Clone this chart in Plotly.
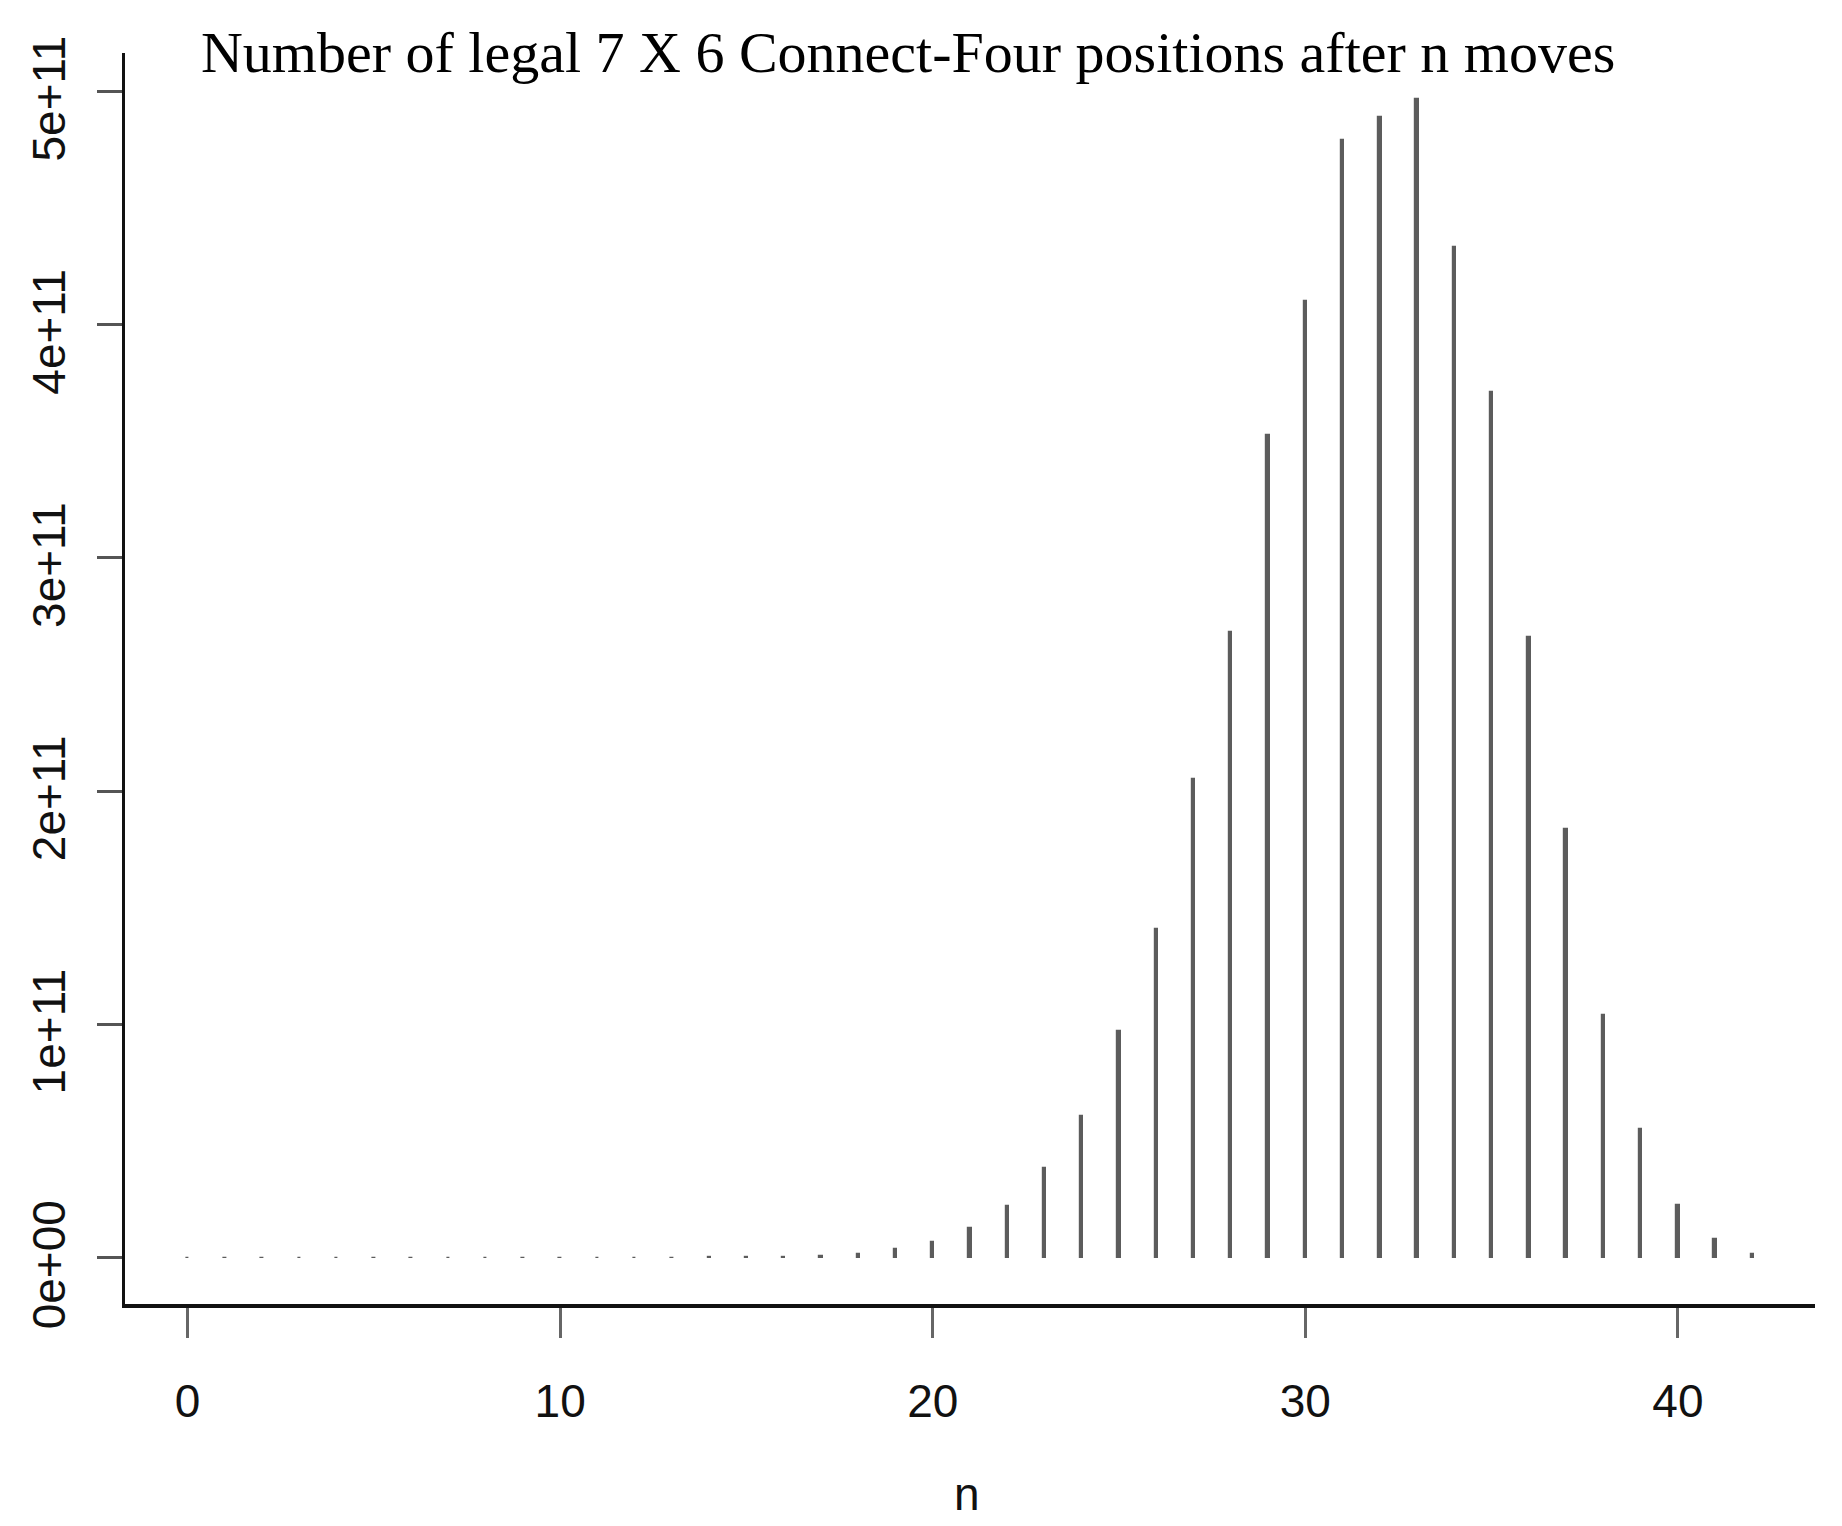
import plotly.graph_objects as go

moves = list(range(43))
positions = [
    1, 7, 49, 238, 1120, 4263, 16422, 54859, 184275, 558186,
    1662623, 4568683, 12236101, 30929111, 75437595, 176541259, 394591391,
    858218743, 1763883894, 3568259802, 6746155945, 12673345045, 22010823988,
    38263228189, 60830813459, 97266114959, 140728569039, 205289508055,
    268057611944, 352626845666, 410378505447, 479206477733, 488906447183,
    496636890702, 433471730336, 370947887723, 266313901222, 183615682381,
    104004465349, 55156010773, 22695896495, 7811825938, 1459332899,
]
x_ticks = [0, 10, 20, 30, 40]
y_ticks = [0, 1e11, 2e11, 3e11, 4e11, 5e11]
y_tick_labels = ["0e+00", "1e+11", "2e+11", "3e+11", "4e+11", "5e+11"]

title_text = "Number of legal 7 X 6 Connect-Four positions after n moves"
x_label = "n"

bar_color = "#5c5c5c"

fig = go.Figure()
fig.add_trace(go.Bar(
    x=moves, y=positions, width=0.09,
    marker=dict(color=bar_color, line=dict(color=bar_color, width=1.2)),
    showlegend=False, hoverinfo="x+y",
))

label_font = dict(family="Liberation Sans, Arial", size=46, color="#111")

fig.update_layout(
    width=1842, height=1526,
    margin=dict(l=124.5, r=27, t=53, b=222),
    paper_bgcolor="white", plot_bgcolor="white",
    bargap=0,
    title=dict(
        text=title_text, xref="container", x=0.493, xanchor="center",
        yref="container", y=0.966, yanchor="middle",
        font=dict(family="Liberation Serif, DejaVu Serif, serif", size=58, color="#000"),
    ),
    xaxis=dict(
        range=[-1.68, 43.68], tickvals=x_ticks, ticktext=[str(v) for v in x_ticks],
        showgrid=False, zeroline=False,
        showline=True, linecolor="#111", linewidth=3.5,
        ticks="outside", ticklen=30, tickwidth=3, tickcolor="#666",
        ticklabelstandoff=24, tickfont=label_font,
    ),
    yaxis=dict(
        range=[-0.1987e11, 5.165e11], tickvals=y_ticks, ticktext=y_tick_labels,
        showgrid=False, zeroline=False,
        showline=True, linecolor="#111", linewidth=3,
        ticks="outside", ticklen=25, tickwidth=3, tickcolor="#555",
        tickangle=-90, ticklabelstandoff=14, ticklabelshift=14, tickfont=label_font,
    ),
    annotations=[dict(
        text=x_label, xref="paper", yref="paper", x=0.498, y=-0.152,
        xanchor="center", yanchor="middle", showarrow=False, font=label_font,
    )],
)

fig.write_html("out.html")
